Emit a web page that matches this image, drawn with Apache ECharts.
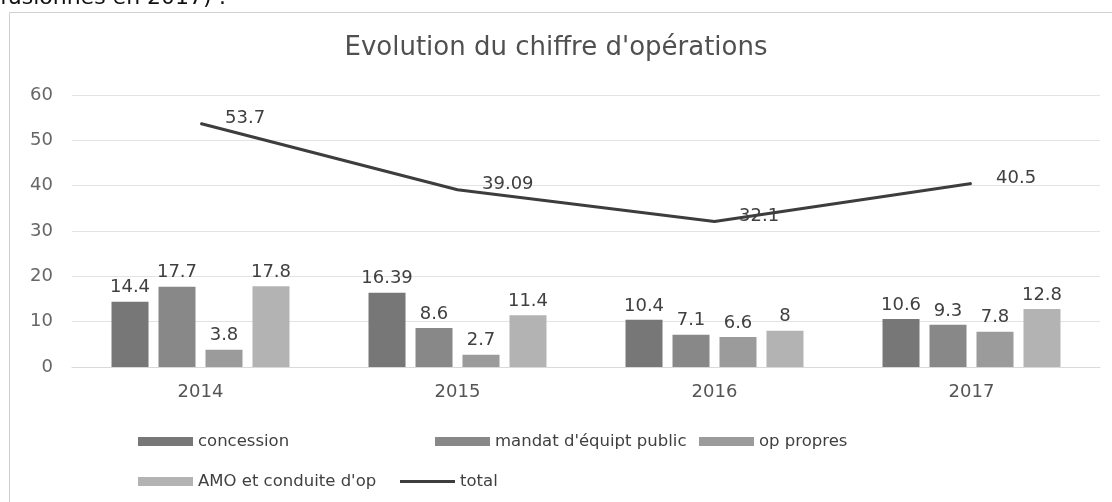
<!DOCTYPE html>
<html>
<head>
<meta charset="utf-8">
<script src="https://cdn.jsdelivr.net/npm/echarts@6/dist/echarts.min.js"></script>
<style>
html,body{margin:0;padding:0;background:#fff;}
#c{width:1112px;height:502px;}
</style>
</head>
<body>
<div id="c"></div>
<script>
var categories = ['2014', '2015', '2016', '2017'];
var concession = [14.4, 16.39, 10.4, 10.6];
var mandat = [17.7, 8.6, 7.1, 9.3];
var opPropres = [3.8, 2.7, 6.6, 7.8];
var amo = [17.8, 11.4, 8, 12.8];
var total = [53.7, 39.09, 32.1, 40.5];
var seriesNames = ['concession', "mandat d'équipt public", 'op propres', "AMO et conduite d'op", 'total'];
var titleText = "Evolution du chiffre d'opérations";
var headerText = "fusionnés en 2017) :";

var FONT = '"DejaVu Sans", "Open Sans", sans-serif';
var barColors = ['#777777', '#888888', '#9b9b9b', '#b3b3b3'];
var barData = [concession, mandat, opPropres, amo];

var chart = echarts.init(document.getElementById('c'), null, {renderer: 'canvas'});

var series = barData.map(function (d, i) {
  return {
    name: seriesNames[i],
    type: 'bar',
    data: d,
    barWidth: 37,
    barGap: '27%',
    itemStyle: {color: barColors[i]},
    label: {
      show: true, position: 'top', distance: 5,
      fontFamily: FONT, fontSize: 18, color: '#404040'
    },
    z: 2
  };
});
series.push({
  name: seriesNames[4],
  type: 'line',
  data: total,
  symbol: 'circle',
  symbolSize: 1,
  lineStyle: {color: '#3d3d3d', width: 3},
  itemStyle: {color: '#3d3d3d'},
  label: {
    show: true, position: 'right', distance: 24, offset: [0, -5],
    fontFamily: FONT, fontSize: 18, color: '#404040'
  },
  z: 5
});

function legendAt(name, left, top, isLine) {
  return {
    data: [name], left: left, top: top,
    itemWidth: 55, itemHeight: isLine ? 3 : 9,
    icon: 'rect', itemGap: 4,
    textStyle: {fontFamily: FONT, fontSize: 16.5, color: '#404040'},
    selectedMode: false
  };
}

chart.setOption({
  animation: false,
  backgroundColor: '#ffffff',
  title: {
    text: titleText, left: 'center', top: 30,
    textStyle: {fontFamily: FONT, fontSize: 26, fontWeight: 'normal', color: '#505050'}
  },
  graphic: [
    {type: 'rect', shape: {x: 9.5, y: 12.5, width: 1200, height: 600},
     style: {fill: 'none', stroke: '#d0d0d0', lineWidth: 1}, z: -1},
    {type: 'text', left: 0, top: -13,
     style: {text: headerText, fontFamily: FONT, fontSize: 22, fill: '#111'}}
  ],
  legend: [
    legendAt(seriesNames[0], 133, 428, false),
    legendAt(seriesNames[1], 430, 428, false),
    legendAt(seriesNames[2], 694, 428, false),
    legendAt(seriesNames[3], 133, 468, false),
    legendAt(seriesNames[4], 395, 468, true)
  ],
  grid: {left: 72, right: 12, top: 95, bottom: 135, containLabel: false},
  xAxis: {
    type: 'category', data: categories,
    axisLine: {lineStyle: {color: '#d9d9d9'}},
    axisTick: {show: false},
    axisLabel: {fontFamily: FONT, fontSize: 18, color: '#555', margin: 16}
  },
  yAxis: {
    type: 'value', min: 0, max: 60, interval: 10,
    axisLine: {show: false}, axisTick: {show: false},
    splitLine: {lineStyle: {color: '#e3e3e3'}},
    axisLabel: {fontFamily: FONT, fontSize: 18, color: '#666', margin: 19}
  },
  series: series
});
</script>
</body>
</html>
